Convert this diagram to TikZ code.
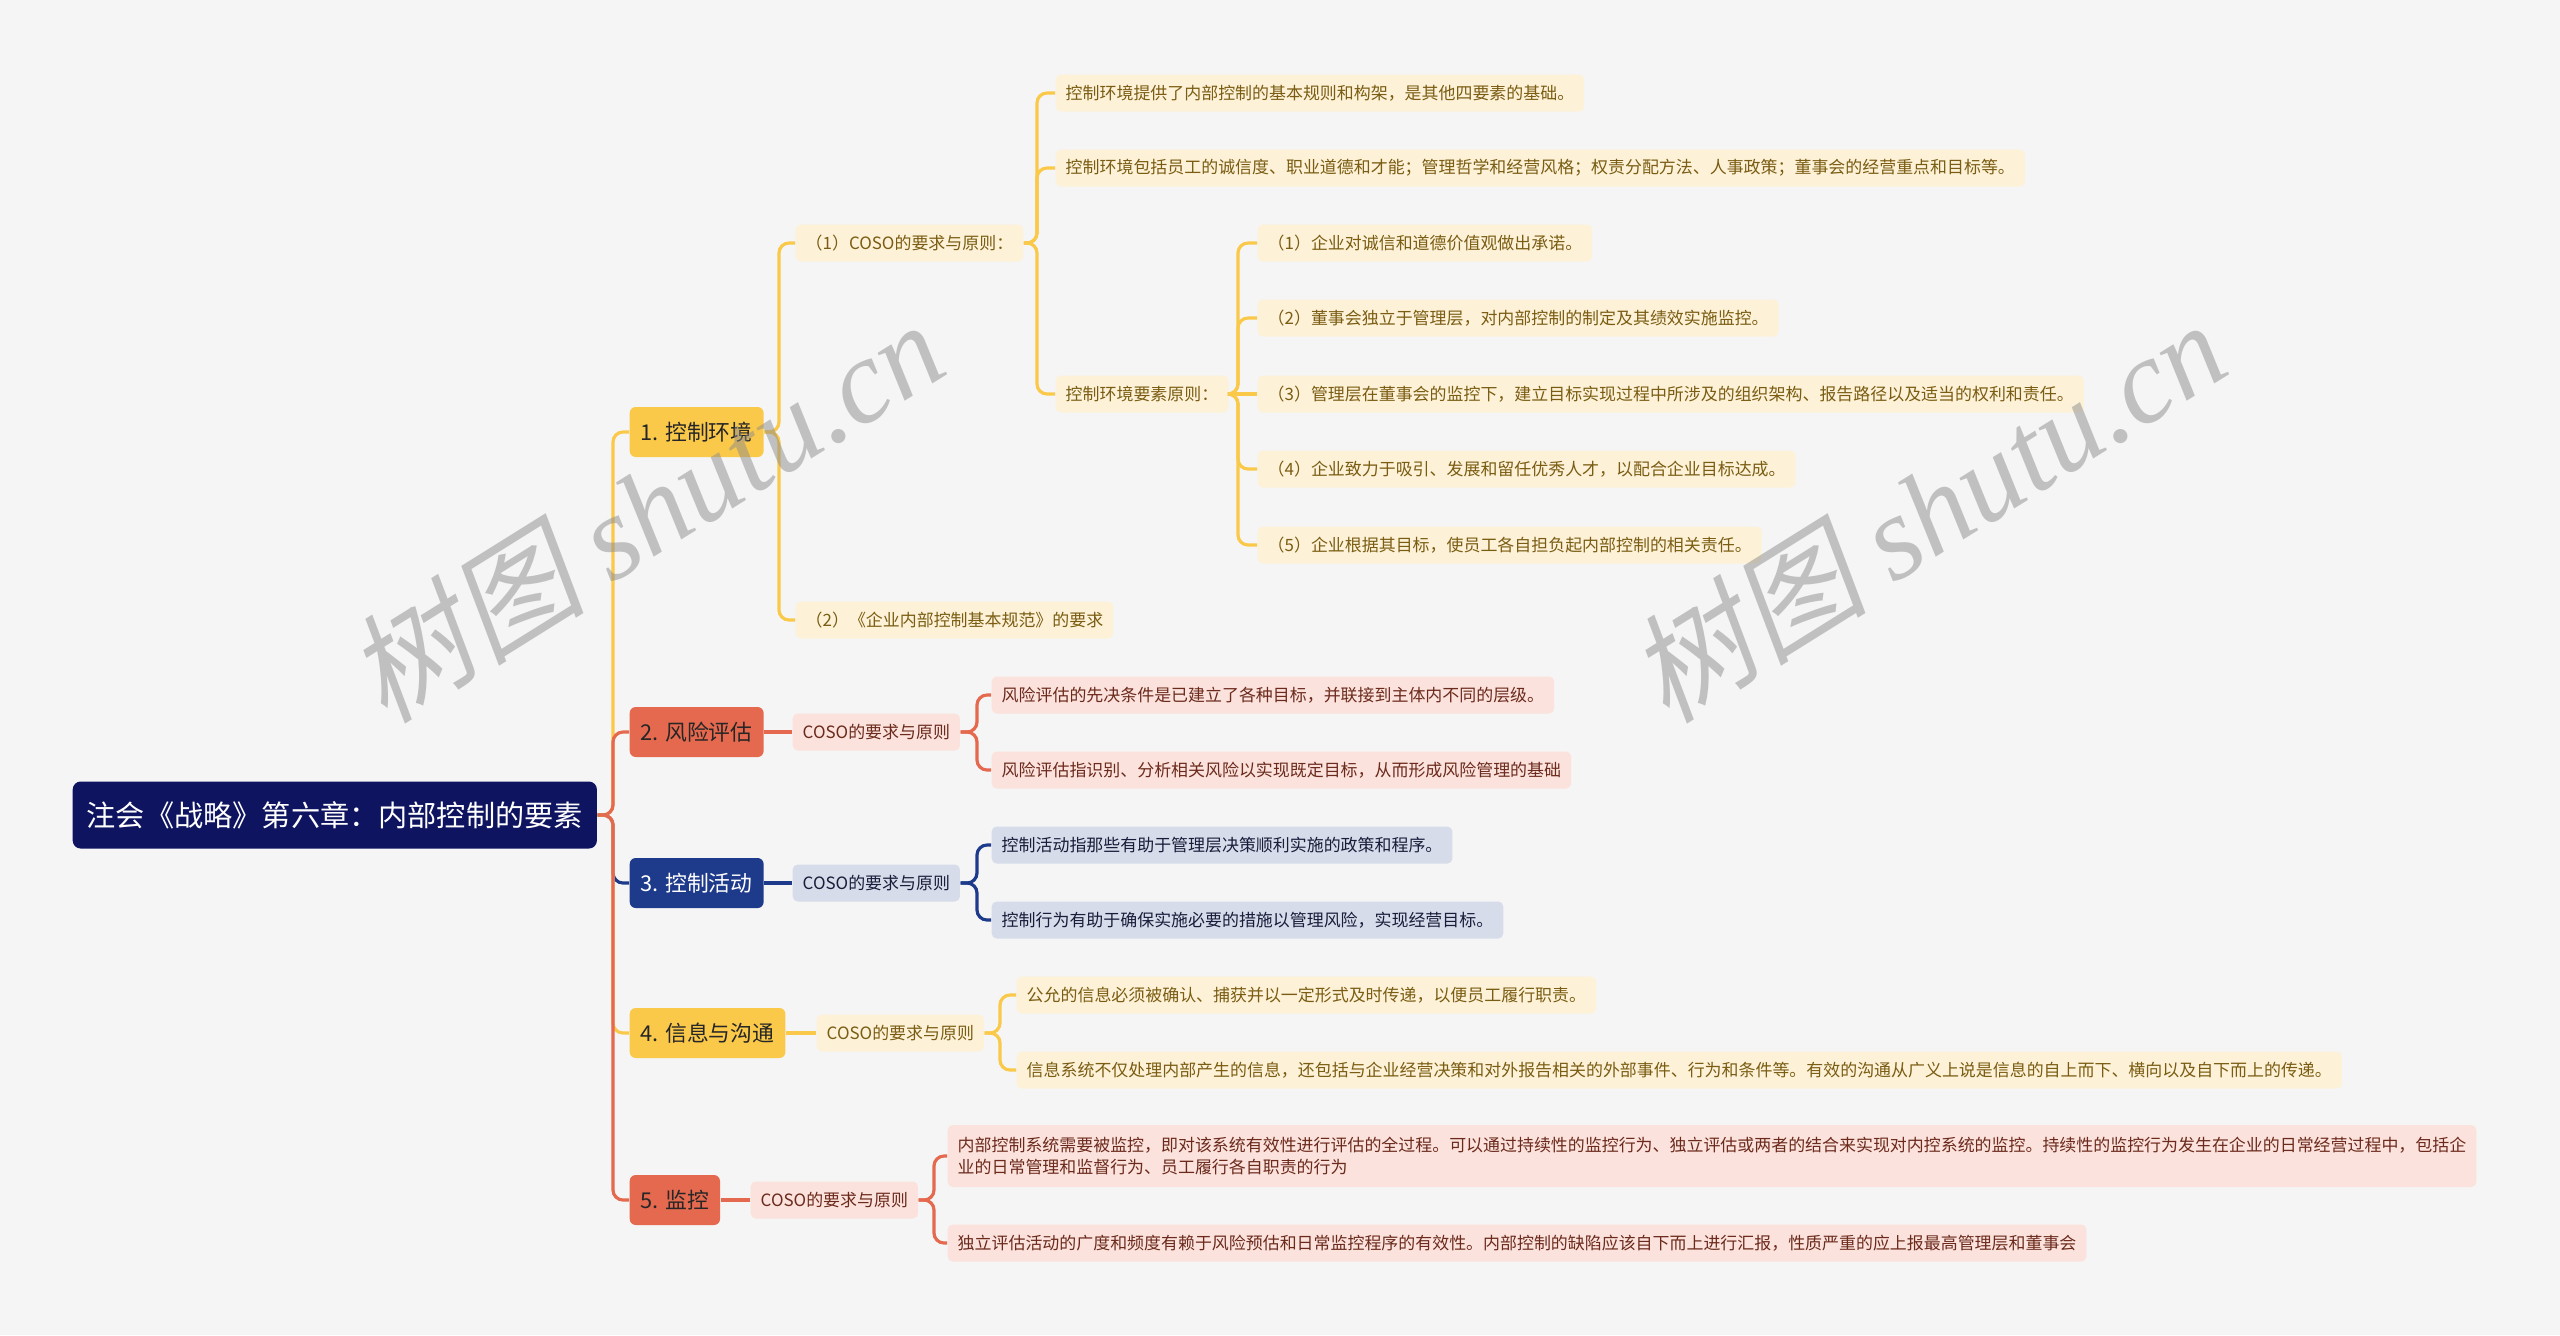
\documentclass[tikz,border=0pt]{standalone}
\usepackage{fontspec}
\setmainfont{Noto Sans CJK SC}
\newfontfamily\wmcjk[FakeSlant=0.2]{Noto Sans CJK SC}
\newfontfamily\wmlat{Liberation Serif}
\usepackage{xcolor}
\usepackage{tikz}
\definecolor{bgc}{HTML}{F5F5F5}
\definecolor{rootc}{HTML}{0E1460}
\definecolor{yel}{HTML}{FBC94A}
\definecolor{yelL}{HTML}{FDF2D8}
\definecolor{yelT}{HTML}{7A5C12}
\definecolor{sal}{HTML}{E4694F}
\definecolor{salL}{HTML}{FBE2DC}
\definecolor{salT}{HTML}{6B2A1C}
\definecolor{nav}{HTML}{1E3A8A}
\definecolor{navL}{HTML}{D6DCEA}
\definecolor{navT}{HTML}{1A1D3A}
\tikzset{
  base/.style={anchor=west, inner ysep=0pt, align=left},
  rootbox/.style={base, fill=rootc, text=white, rounded corners=0.8mm,
    minimum height=6.7mm, inner xsep=1.4mm, font=\fontsize{8.3}{10}\selectfont},
  topic/.style={base, rounded corners=0.6mm, minimum height=5mm,
    inner xsep=1.1mm, font=\fontsize{6.2}{7.5}\selectfont},
  leaf/.style={base, rounded corners=0.5mm, minimum height=3.7mm,
    inner xsep=1mm, font=\fontsize{4.82}{6.5}\selectfont},
  ytopic/.style={topic, fill=yel, text=black!85},
  stopic/.style={topic, fill=sal, text=black!85},
  ntopic/.style={topic, fill=nav, text=white},
  yleaf/.style={leaf, fill=yelL, text=yelT},
  sleaf/.style={leaf, fill=salL, text=salT},
  nleaf/.style={leaf, fill=navL, text=navT},
  ylink/.style={draw=yel, line width=0.9pt, rounded corners=1mm},
  slink/.style={draw=sal, line width=0.9pt, rounded corners=1mm},
  nlink/.style={draw=nav, line width=0.9pt, rounded corners=1mm},
  ystraight/.style={ylink, sharp corners},
  sstraight/.style={slink, sharp corners},
  nstraight/.style={nlink, sharp corners},
  wmark/.style={rotate=32, text=black!45, text opacity=0.5,
    font=\fontsize{34}{40}\selectfont}
}
% mind-map connector: parent east -> trunk -> child west
\newcommand{\mmlink}[4][1.6mm]{\draw[#2] (#3.east) -| ([xshift=-#1]#4.west) -- (#4.west);}

\begin{document}
\begin{tikzpicture}[x=0.01cm, y=-0.01cm]
  \fill[bgc] (0,0) rectangle (2560,1335);
  % root and main topics
  \node[rootbox] (root) at (72,815) {注会《战略》第六章：内部控制的要素};
  \node[ytopic] (t1) at (629,432) {1. 控制环境};
  \node[stopic] (t2) at (629,732) {2. 风险评估};
  \node[ntopic] (t3) at (629,883) {3. 控制活动};
  \node[ytopic] (t4) at (629,1033) {4. 信息与沟通};
  \node[stopic] (t5) at (629,1200) {5. 监控};
  \mmlink{ylink}{root}{t1}
  \mmlink{slink}{root}{t2}
  \mmlink{nlink}{root}{t3}
  \mmlink{ylink}{root}{t4}
  \mmlink{slink}{root}{t5}

  % 1. control environment
  \node[yleaf] (b1a) at (795,243) {（1）COSO的要求与原则：};
  \node[yleaf] (b1b) at (795,620) {（2）《企业内部控制基本规范》的要求};
  \mmlink{ylink}{t1}{b1a}
  \mmlink{ylink}{t1}{b1b}
  \node[yleaf] (c1) at (1055,93) {控制环境提供了内部控制的基本规则和构架，是其他四要素的基础。};
  \node[yleaf] (c2) at (1055,168) {控制环境包括员工的诚信度、职业道德和才能；管理哲学和经营风格；权责分配方法、人事政策；董事会的经营重点和目标等。};
  \node[yleaf] (c3) at (1055,394) {控制环境要素原则：};
  \foreach \n in {c1,c2,c3}{\mmlink[1.8mm]{ylink}{b1a}{\n}}
  \foreach \n/\y/\lk/\t in {
      p1/243/ylink/{（1）企业对诚信和道德价值观做出承诺。},
      p2/318/ylink/{（2）董事会独立于管理层，对内部控制的制定及其绩效实施监控。},
      p3/394/ystraight/{（3）管理层在董事会的监控下，建立目标实现过程中所涉及的组织架构、报告路径以及适当的权利和责任。},
      p4/469/ylink/{（4）企业致力于吸引、发展和留任优秀人才，以配合企业目标达成。},
      p5/545/ylink/{（5）企业根据其目标，使员工各自担负起内部控制的相关责任。}}{
    \node[yleaf] (\n) at (1257,\y) {\t};
    \mmlink[1.9mm]{\lk}{c3}{\n}
  }

  % 2. risk assessment
  \node[sleaf] (b2) at (792,732) {COSO的要求与原则};
  \mmlink{sstraight}{t2}{b2}
  \node[sleaf] (r1) at (991,695) {风险评估的先决条件是已建立了各种目标，并联接到主体内不同的层级。};
  \node[sleaf] (r2) at (991,770) {风险评估指识别、分析相关风险以实现既定目标，从而形成风险管理的基础};
  \mmlink[1.4mm]{slink}{b2}{r1}
  \mmlink[1.4mm]{slink}{b2}{r2}

  % 3. control activities
  \node[nleaf] (b3) at (792,883) {COSO的要求与原则};
  \mmlink{nstraight}{t3}{b3}
  \node[nleaf] (a1) at (991,845) {控制活动指那些有助于管理层决策顺利实施的政策和程序。};
  \node[nleaf] (a2) at (991,920) {控制行为有助于确保实施必要的措施以管理风险，实现经营目标。};
  \mmlink[1.4mm]{nlink}{b3}{a1}
  \mmlink[1.4mm]{nlink}{b3}{a2}

  % 4. information and communication
  \node[yleaf] (b4) at (816,1033) {COSO的要求与原则};
  \mmlink{ystraight}{t4}{b4}
  \node[yleaf] (i1) at (1016,995) {公允的信息必须被确认、捕获并以一定形式及时传递，以便员工履行职责。};
  \node[yleaf] (i2) at (1016,1070) {信息系统不仅处理内部产生的信息，还包括与企业经营决策和对外报告相关的外部事件、行为和条件等。有效的沟通从广义上说是信息的自上而下、横向以及自下而上的传递。};
  \mmlink[1.6mm]{ylink}{b4}{i1}
  \mmlink[1.6mm]{ylink}{b4}{i2}

  % 5. monitoring
  \node[sleaf] (b5) at (750,1200) {COSO的要求与原则};
  \mmlink{sstraight}{t5}{b5}
  \node[sleaf, minimum height=6.2mm] (m1) at (947,1156) {内部控制系统需要被监控，即对该系统有效性进行评估的全过程。可以通过持续性的监控行为、独立评估或两者的结合来实现对内控系统的监控。持续性的监控行为发生在企业的日常经营过程中，包括企\\业的日常管理和监督行为、员工履行各自职责的行为};
  \node[sleaf] (m2) at (947,1243) {独立评估活动的广度和频度有赖于风险预估和日常监控程序的有效性。内部控制的缺陷应该自下而上进行汇报，性质严重的应上报最高管理层和董事会};
  \mmlink[1.3mm]{slink}{b5}{m1}
  \mmlink[1.3mm]{slink}{b5}{m2}

  % watermark
  \node[wmark] (wm1) at (645,510) {{\wmcjk 树图} {\wmlat\itshape shutu.cn}};
  \node[wmark] (wm2) at (1927,510) {{\wmcjk 树图} {\wmlat\itshape shutu.cn}};
\end{tikzpicture}
\end{document}
